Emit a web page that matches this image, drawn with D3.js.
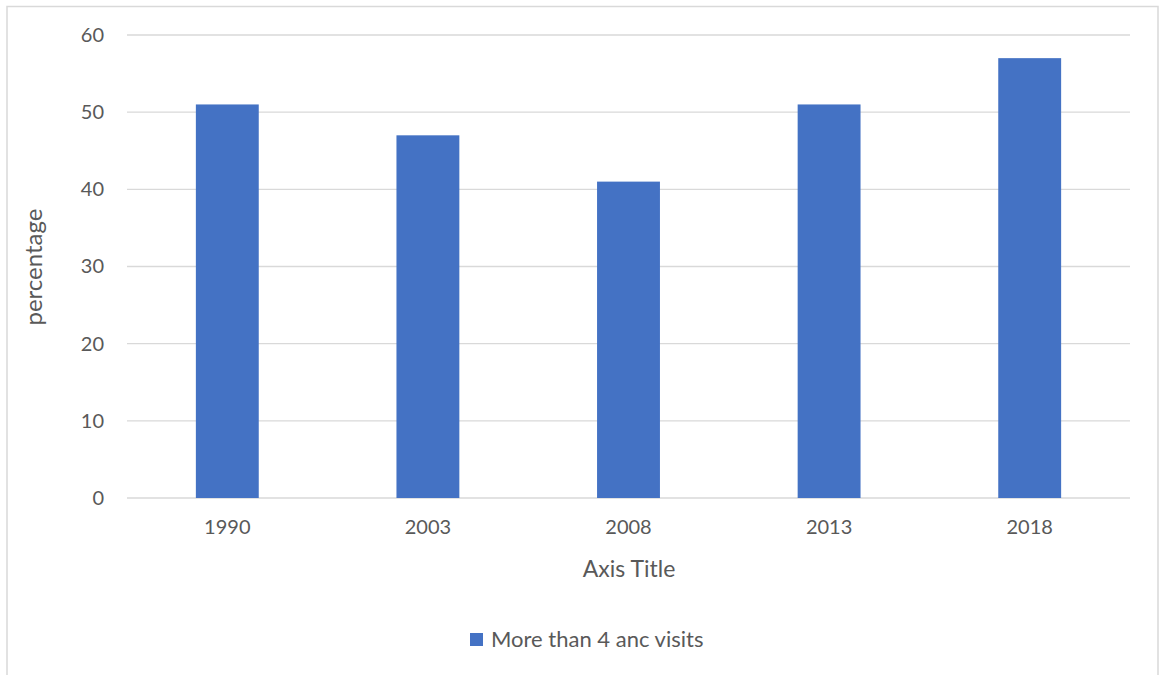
<!DOCTYPE html>
<html><head><meta charset="utf-8">
<script src="https://cdn.jsdelivr.net/npm/d3@7"></script>
<style>body{margin:0;background:#fff}svg{display:block}</style>
</head><body><svg id="c" width="1163" height="675"></svg>
<script>
const categories = ["1990","2003","2008","2013","2018"];
const values = [51, 47, 41, 51, 57];
const yTicks = [0,10,20,30,40,50,60];
const seriesName = "More than 4 anc visits";
const xTitle = "Axis Title";
const yTitle = "percentage";

(function(){
const svg = d3.select("#c");
const font = "Lato, 'Open Sans', sans-serif";
const textColor = "#595959";
svg.append("rect").attr("x",7).attr("y",6.5).attr("width",1151).attr("height",680)
  .attr("fill","none").attr("stroke","#d9d9d9").attr("stroke-width",1.5);

const pL=127, pR=1130, pT=35, pB=498;
const x = d3.scaleBand().domain(categories).range([pL,pR]).paddingInner(0.6865).paddingOuter(0.3433);
const y = d3.scaleLinear().domain([0,60]).range([pB,pT]);

const g = svg.append("g");
g.selectAll(".grid").data(yTicks).join("line")
  .attr("x1",pL).attr("x2",pR).attr("y1",d=>y(d)).attr("y2",d=>y(d))
  .attr("stroke","#d9d9d9").attr("stroke-width",1.3);

g.selectAll(".bar").data(values).join("rect")
  .attr("x",(d,i)=>x(categories[i])).attr("width",x.bandwidth())
  .attr("y",d=>y(d)).attr("height",d=>y(0)-y(d)).attr("fill","#4472c4");

const yAxis = d3.axisLeft(y).tickValues(yTicks).tickSize(0).tickPadding(0);
const ya = svg.append("g").attr("transform",`translate(104,0)`).call(yAxis);
ya.select(".domain").remove();
ya.selectAll("text").attr("font-family",font).attr("font-size",20).attr("fill",textColor);

const xb = d3.scaleBand().domain(categories).range([pL,pR]);
const xAxis = d3.axisBottom(xb).tickSize(0).tickPadding(0);
const xa = svg.append("g").attr("transform",`translate(0,${pB+22})`).call(xAxis);
xa.select(".domain").remove();
xa.selectAll("text").attr("font-family",font).attr("font-size",20).attr("fill",textColor);

svg.append("text").attr("x",629).attr("y",577).attr("text-anchor","middle")
  .attr("font-family",font).attr("font-size",23).attr("fill",textColor).text(xTitle);
svg.append("text").attr("transform","translate(42,267) rotate(-90)").attr("text-anchor","middle")
  .attr("font-family",font).attr("font-size",24).attr("fill",textColor).text(yTitle);

svg.append("rect").attr("x",470).attr("y",633).attr("width",13).attr("height",13).attr("fill","#4472c4");
svg.append("text").attr("x",491).attr("y",647).attr("font-family",font).attr("font-size",22)
  .attr("fill",textColor).text(seriesName);
})();
</script></body></html>
